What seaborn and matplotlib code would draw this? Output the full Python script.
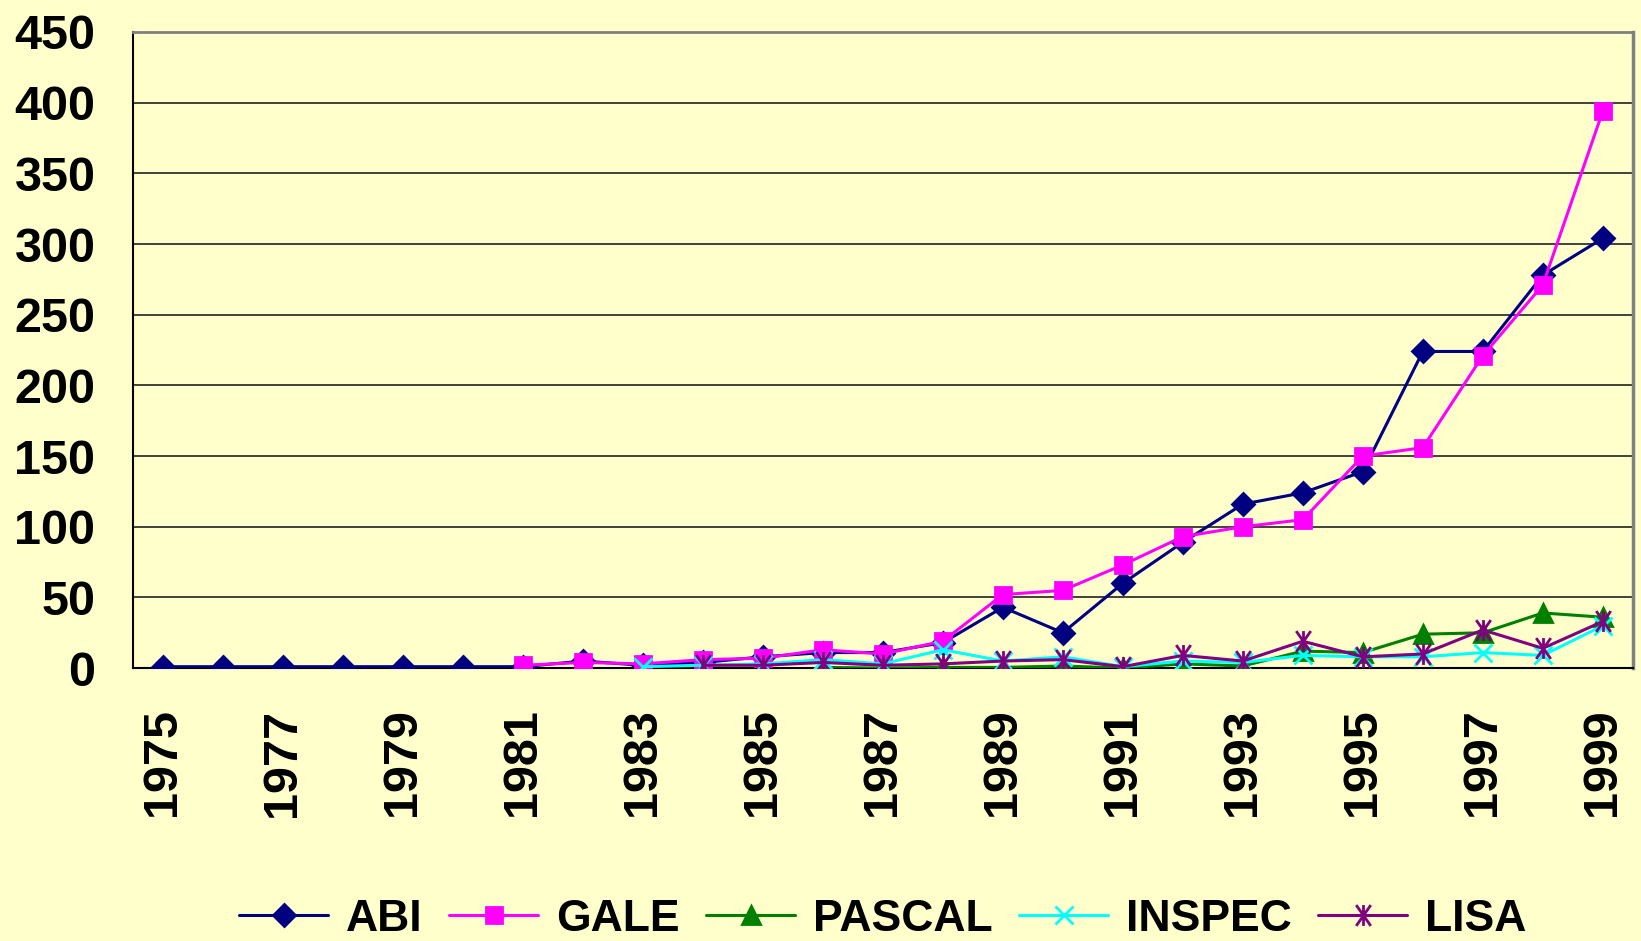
import matplotlib
matplotlib.use("Agg")
import matplotlib.pyplot as plt
import numpy as np
import pandas as pd
import seaborn as sns
from matplotlib.path import Path
from matplotlib.ticker import FixedLocator

years = list(range(1975, 2000))
nan = np.nan

abi = [1, 1, 1, 1, 1, 1, 1, 5, 2, 4, 8, 11, 11, 18, 43, 25, 60, 89, 116, 124, 139, 224, 224, 278, 304]
gale = [nan] * 6 + [2, 4, 3, 6, 7, 13, 10, 19, 52, 55, 73, 93, 100, 105, 150, 156, 221, 271, 394]
pascal = [nan] * 11 + [0.5, 0, 0.5, 0.5, 1.5, 0, 3, 1.5, 12, 11, 24, 25, 39, 36]
inspec = [nan] * 8 + [1, 2, 3, 6, 3, 13, 5, 8, 1, 5, 4, 9, 8, 8, 11, 9, 30]
lisa = [nan] * 9 + [2, 2, 4, 2, 3, 5, 6, 1, 9, 5, 19, 8, 10, 27, 14, 33]

# Excel-style asterisk: an X plus a vertical bar
star = Path(
    [(0, -1), (0, 1), (-0.7, -1), (0.7, 1), (-0.7, 1), (0.7, -1)],
    [Path.MOVETO, Path.LINETO, Path.MOVETO, Path.LINETO, Path.MOVETO, Path.LINETO],
)

series = [
    ("ABI", abi, "#000080", "D", 11),
    ("GALE", gale, "#FF00FF", "s", 12),
    ("PASCAL", pascal, "#008000", "^", 13),
    ("INSPEC", inspec, "#00FFFF", "x", 13),
    ("LISA", lisa, "#800080", star, 15),
]

bg = "#FFFFCC"
sns.set_style("white")
plt.rcParams["font.family"] = ["Liberation Sans", "DejaVu Sans"]
plt.rcParams["font.weight"] = "bold"
plt.rcParams["text.color"] = "black"
plt.rcParams["xtick.color"] = "black"
plt.rcParams["ytick.color"] = "black"

fig = plt.figure(figsize=(16.41, 9.41), dpi=100, facecolor=bg)
ax = fig.add_axes([0.081, 0.290, 0.914, 0.676])
ax.set_facecolor(bg)

for name, vals, color, marker, ms in series:
    df = pd.DataFrame({"year": years, "value": vals}).dropna()
    sns.lineplot(
        data=df, x="year", y="value", ax=ax, color=color, marker=marker,
        markersize=ms, markeredgecolor=color, markerfacecolor=color,
        markeredgewidth=2, linewidth=2.2, label=name, zorder=3,
    )

ax.set_xlim(1974.5, 1999.5)
ax.set_ylim(0, 450)
ax.set_yticks(range(0, 451, 50))
ax.yaxis.grid(True, color="#333333", linewidth=1.3)
ax.xaxis.grid(False)

ax.xaxis.set_major_locator(FixedLocator(years[::2]))
ax.set_xticklabels([str(y) for y in years[::2]], rotation=90)
ax.xaxis.set_minor_locator(FixedLocator(np.arange(1974.5, 2000, 1)))
ax.tick_params(axis="x", which="major", length=0, pad=29, labelsize=35, labelcolor="black")
ax.tick_params(axis="x", which="minor", length=9, width=1.3, color="black", direction="out")
ax.tick_params(axis="y", length=11, width=1.3, color="black", direction="out", pad=16,
               labelsize=35, labelcolor="black")
for lab in ax.get_xticklabels() + ax.get_yticklabels():
    lab.set_fontweight("bold")

ax.set_xlabel("")
ax.set_ylabel("")
ax.spines["left"].set_color("black")
ax.spines["bottom"].set_color("black")
ax.spines["left"].set_linewidth(1.5)
ax.spines["bottom"].set_linewidth(1.5)
ax.spines["top"].set_color("#808080")
ax.spines["right"].set_color("#808080")
ax.spines["top"].set_linewidth(2)
ax.spines["right"].set_linewidth(2.5)

leg = ax.legend(
    loc="center", bbox_to_anchor=(0.5, -0.395), ncol=5, frameon=False,
    prop={"size": 32, "weight": "bold"}, handlelength=2.0,
    handletextpad=0.4, columnspacing=0.6, borderaxespad=0,
)
for t in leg.get_texts():
    t.set_color("black")

fig.savefig("out.png", dpi=100, facecolor=bg)
